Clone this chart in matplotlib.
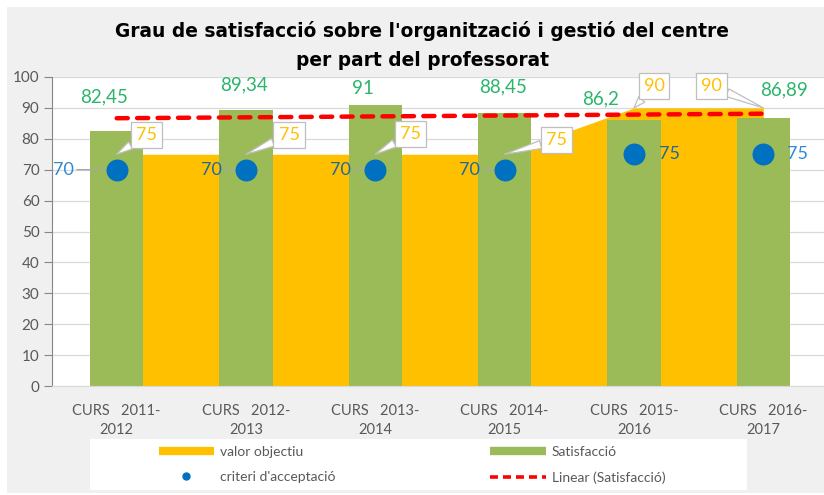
import numpy as np
import matplotlib
matplotlib.use("Agg")
import matplotlib.pyplot as plt
from matplotlib.lines import Line2D
from matplotlib.patches import Rectangle

plt.rcParams['font.family'] = ['Lato', 'DejaVu Sans']

# ---------------- dades ----------------
cursos = ["CURS   2011-\n2012", "CURS   2012-\n2013", "CURS   2013-\n2014",
          "CURS   2014-\n2015", "CURS   2015-\n2016", "CURS   2016-\n2017"]
satisfaccio = [82.45, 89.34, 91, 88.45, 86.2, 86.89]
valor_objectiu = [75, 75, 75, 75, 90, 90]
criteri = [70, 70, 70, 70, 75, 75]

# colors
GROC = '#FFC000'
VERD = '#9BBB59'
BLAU = '#0070C0'
VERMELL = '#FF0000'
TXT_VERD = '#2AB56B'
GRIS = '#595959'

W, H = 824, 495
fig = plt.figure(figsize=(W / 100, H / 100), dpi=100)
fig.patch.set_facecolor('white')
# fons gris de l'area del grafic
fig.patches.append(Rectangle((7 / W, 2 / H), 1, 1 - 9 / H, transform=fig.transFigure,
                             facecolor='#F0F0F0', edgecolor='none', zorder=-2))

# area de dibuix (la dreta queda retallada com a l'original)
ax = fig.add_axes([52 / W, 1 - 386 / H, 776 / W, 309 / H])
ax.set_facecolor('white')

x = np.arange(len(cursos))

ax.fill_between(x, 0, valor_objectiu, color=GROC, lw=0, zorder=1)
ax.bar(x, satisfaccio, width=0.41, color=VERD, zorder=2)

# linia de tendencia lineal de la satisfaccio
coef = np.polyfit(x, satisfaccio, 1)
ax.plot(x, np.polyval(coef, x), color=VERMELL, lw=3.2, ls=(0, (2.5, 2.1)),
        dash_capstyle='round', zorder=3)

ax.scatter(x, criteri, s=250, color=BLAU, zorder=4, linewidths=0)

ax.set_xlim(-0.5, 5.5)
ax.set_ylim(0, 100)
ax.set_yticks(np.arange(0, 101, 10))
ax.set_xticks(x)
ax.set_xticklabels(cursos, fontsize=10.5, color=GRIS, linespacing=1.45)
ax.tick_params(axis='x', length=0, pad=13)
ax.tick_params(axis='y', length=6, color='#868686', labelsize=11, labelcolor=GRIS, pad=3)
ax.grid(axis='y', color='#D9D9D9', lw=0.9)
ax.set_axisbelow(True)
for s in ['top', 'right']:
    ax.spines[s].set_visible(False)
ax.spines['left'].set_color('#868686')
ax.spines['bottom'].set_color('#D9D9D9')


def coma(v):
    return f"{v:g}".replace('.', ',')


# etiquetes de satisfaccio (posicio manual, com a l'Excel)
off_verd = [(-13, 34), (-2, 25), (-12, 16), (-2, 26), (-33, 21), (21, 28)]
for xi, v, (dx, dy) in zip(x, satisfaccio, off_verd):
    ax.annotate(coma(v), (xi, v), xytext=(dx, dy), textcoords='offset pixels',
                ha='center', va='center', fontsize=13.5, color=TXT_VERD, zorder=6)

# etiquetes del valor objectiu amb globus
off_groc = [(30, 19), (43, 19), (35, 20), (52, 14), (20, 22), (-52, 22)]
for xi, v, (dx, dy) in zip(x, valor_objectiu, off_groc):
    ax.annotate(coma(v), (xi, v), xytext=(dx, dy), textcoords='offset pixels',
                ha='center', va='center', fontsize=13, color=GROC, zorder=6,
                bbox=dict(boxstyle='square,pad=0.28', fc='white', ec='#BFBFBF', lw=0.9),
                arrowprops=dict(arrowstyle='wedge,tail_width=0.45', fc='white',
                                ec='#BFBFBF', lw=0.9, shrinkA=0, shrinkB=0))

# etiquetes del criteri d'acceptacio
off_blau = [(-53, 0), (-35, 0), (-35, 0), (-35, 0), (36, 0), (34, 0)]
col_blau = ['#2F8AD3', '#24679E', '#24679E', '#24679E', '#24679E', '#2F8AD3']
for i, (xi, v, (dx, dy)) in enumerate(zip(x, criteri, off_blau)):
    props = None
    if dx < 0:
        props = dict(arrowstyle='-', color='#A6A6A6', lw=1, shrinkA=0, shrinkB=0)
    ax.annotate(coma(v), (xi, v), xytext=(dx, dy), textcoords='offset pixels',
                ha='center', va='center', fontsize=13, color=col_blau[i], zorder=3.5,
                arrowprops=props)

# titol
titol_font = dict(ha='center', va='center', fontsize=13.4, fontweight='bold',
                  color='black', family=['DejaVu Sans'])
fig.text(422 / W, 1 - 31 / H, "Grau de satisfacció sobre l'organització i gestió del centre",
         **titol_font)
fig.text(422 / W, 1 - 61 / H, "per part del professorat", **titol_font)

# llegenda
fig.patches.append(Rectangle((90 / W, 1 - 490 / H), 657 / W, 51 / H,
                             transform=fig.transFigure, facecolor='white',
                             edgecolor='none', zorder=-1))
handles = [
    Line2D([], [], color=GROC, lw=6, solid_capstyle='butt'),
    Line2D([], [], color=BLAU, marker='o', markersize=5, ls='none'),
    Line2D([], [], color=VERD, lw=6, solid_capstyle='butt'),
    Line2D([], [], color=VERMELL, lw=2.6, ls=(0, (2.2, 1.4))),
]
labels = ["valor objectiu", "criteri d'acceptació", "Satisfacció", "Linear (Satisfacció)"]
leg = fig.legend(handles, labels, ncol=2, frameon=False, fontsize=10,
                 labelcolor=GRIS, handlelength=4.0, handletextpad=0.45,
                 columnspacing=11.1, labelspacing=0.95,
                 loc='center left', bbox_to_anchor=(146 / W, 1 - 465 / H))

fig.savefig("out.png", dpi=100)
